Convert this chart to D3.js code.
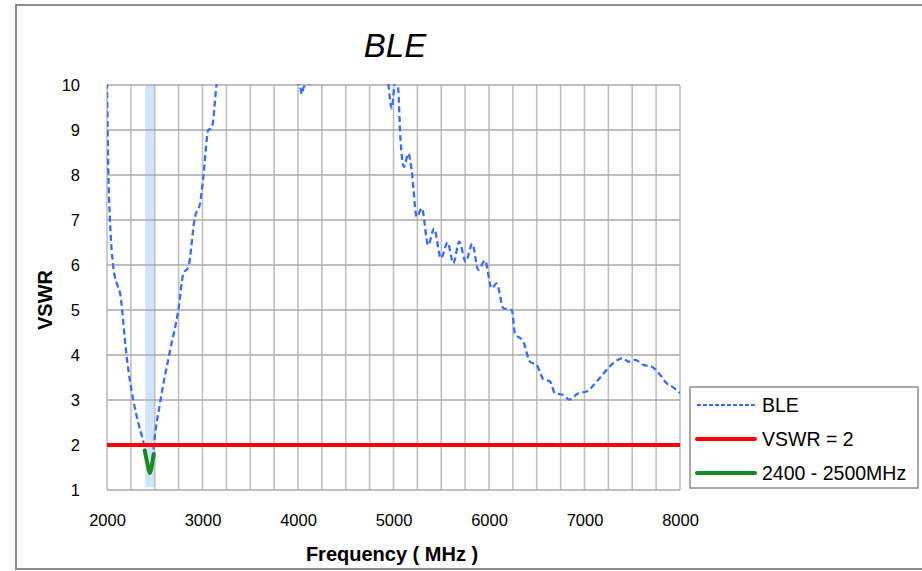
<!DOCTYPE html>
<html>
<head>
<meta charset="utf-8">
<script src="https://cdn.jsdelivr.net/npm/d3@7"></script>
<style>
  body { margin: 0; background: #fff; }
  svg text { font-family: "Liberation Sans", Arial, sans-serif; fill: #000; }
</style>
</head>
<body>
<svg id="chart" width="922" height="571"></svg>
<script>
// measured curve (MHz, VSWR)
const bleFreq = [2000, 2014, 2031, 2066, 2101, 2136, 2206, 2275, 2328, 2380, 2420, 2450, 2470, 2492,
  2555, 2660, 2747, 2799, 2852, 2921, 2974, 3009, 3061, 3096, 3148, 3200, 3500,
  3900, 3990, 4021, 4038, 4060, 4100, 4150, 4250, 4600,
  4900, 4945, 4981, 5016, 5035, 5050, 5068, 5110, 5155, 5190, 5243, 5296, 5364, 5424,
  5497, 5567, 5626, 5689, 5756, 5825, 5888, 5958, 6028, 6080, 6150, 6238, 6272, 6359,
  6429, 6499, 6569, 6639, 6691, 6778, 6841, 6935, 7023, 7128, 7232, 7319, 7400, 7459,
  7529, 7616, 7703, 7791, 7861, 7930, 8000];
const bleVswr = [10.05, 8.1, 7.0, 5.96, 5.6, 5.38, 3.96, 3.0, 2.49, 2.07, 1.62, 1.38, 1.55, 2.04,
  2.93, 4.1, 5.0, 5.8, 5.96, 7.07, 7.37, 7.96, 9.0, 9.04, 10.04, 11, 14,
  11, 10.05, 10.0, 9.8, 9.95, 10.02, 10.05, 10.5, 13,
  10.5, 10.02, 9.48, 10.04, 10.05, 9.9, 9.0, 8.18, 8.48, 8.11, 7.07, 7.26, 6.44, 6.81,
  6.15, 6.5, 6.04, 6.52, 6.07, 6.47, 5.89, 6.1, 5.48, 5.59, 5.04, 5.0, 4.48, 4.3,
  3.85, 3.78, 3.46, 3.41, 3.15, 3.11, 3.01, 3.15, 3.19, 3.41, 3.67, 3.85, 3.93, 3.85,
  3.89, 3.78, 3.74, 3.56, 3.37, 3.28, 3.15];

const bandFreq = [2395, 2420, 2450, 2470, 2490];
const bandVswr = [1.88, 1.62, 1.38, 1.55, 1.8];
const bandRange = [2400, 2500];

const limitVswr = 2;
const xTicks = [2000, 3000, 4000, 5000, 6000, 7000, 8000];
const yTicks = [1, 2, 3, 4, 5, 6, 7, 8, 9, 10];

const svg = d3.select("#chart");
const plotL = 107, plotR = 680, plotT = 85, plotB = 490;

const x = d3.scaleLinear().domain([2000, 8000]).range([plotL, plotR]);
const y = d3.scaleLinear().domain([1, 10]).range([plotB, plotT]);

// chart frame
svg.append("rect")
  .attr("x", 16).attr("y", 5).attr("width", 930).attr("height", 564)
  .attr("fill", "none").attr("stroke", "#8c8c8c").attr("stroke-width", 2);

svg.append("text")
  .attr("x", 395).attr("y", 57)
  .attr("text-anchor", "middle")
  .attr("font-size", 33).attr("font-style", "italic")
  .text("BLE");

// 2400-2500 band
svg.append("rect")
  .attr("x", x(bandRange[0])).attr("y", plotT)
  .attr("width", x(bandRange[1]) - x(bandRange[0]))
  .attr("height", plotB - plotT - 3)
  .attr("fill", "#cfe5fb");

// grid
svg.append("g")
  .selectAll("line")
  .data(d3.range(2000, 8001, 250))
  .join("line")
  .attr("x1", (d) => x(d)).attr("x2", (d) => x(d))
  .attr("y1", plotT).attr("y2", plotB)
  .attr("stroke", "#c0c0c0").attr("stroke-width", 1.6);

svg.append("g")
  .selectAll("line")
  .data(yTicks)
  .join("line")
  .attr("x1", plotL).attr("x2", plotR)
  .attr("y1", (d) => y(d)).attr("y2", (d) => y(d))
  .attr("stroke", "#aaaaaa").attr("stroke-width", 1.6);

// axes (labels only)
const xAxis = svg.append("g")
  .attr("transform", `translate(0, ${plotB})`)
  .call(d3.axisBottom(x).tickValues(xTicks).tickSize(0).tickPadding(24).tickFormat(d3.format("d")));
const yAxis = svg.append("g")
  .attr("transform", `translate(${plotL}, 0)`)
  .call(d3.axisLeft(y).tickValues(yTicks).tickSize(0).tickPadding(27));
[xAxis, yAxis].forEach((a) => {
  a.attr("font-family", null);
  a.select(".domain").remove();
  a.selectAll("text").attr("font-size", 16.5);
});

svg.append("text")
  .attr("transform", "translate(52, 300) rotate(-90)")
  .attr("text-anchor", "middle")
  .attr("font-size", 20).attr("font-weight", "bold")
  .text("VSWR");

svg.append("text")
  .attr("x", 392).attr("y", 561)
  .attr("text-anchor", "middle")
  .attr("font-size", 20).attr("font-weight", "bold")
  .text("Frequency ( MHz )");

// lines
svg.append("clipPath").attr("id", "plot")
  .append("rect").attr("x", plotL).attr("y", plotT - 1)
  .attr("width", plotR - plotL).attr("height", plotB - plotT + 1);

const line = d3.line()
  .x((d) => x(d[0]))
  .y((d) => y(d[1]))
  .curve(d3.curveMonotoneX);

svg.append("path")
  .attr("clip-path", "url(#plot)")
  .attr("d", line(d3.zip(bleFreq, bleVswr)))
  .attr("fill", "none")
  .attr("stroke", "#3b6cf2").attr("stroke-width", 2.3)
  .attr("stroke-dasharray", "6,3.5");

svg.append("line")
  .attr("x1", x(2000)).attr("x2", x(8000))
  .attr("y1", y(limitVswr)).attr("y2", y(limitVswr))
  .attr("stroke", "#ff0000").attr("stroke-width", 4);

svg.append("path")
  .attr("d", line(d3.zip(bandFreq, bandVswr)))
  .attr("fill", "none")
  .attr("stroke", "#178a24").attr("stroke-width", 4)
  .attr("stroke-linecap", "round");

// legend
const legend = svg.append("g");
legend.append("rect")
  .attr("x", 690).attr("y", 387).attr("width", 228).attr("height", 101)
  .attr("fill", "#fff").attr("stroke", "#8c8c8c").attr("stroke-width", 1.5);

const legendItems = [
  { label: "BLE", color: "#3b6cf2", width: 2, dash: "4,2" },
  { label: "VSWR = 2", color: "#ff0000", width: 4, dash: null },
  { label: "2400 - 2500MHz", color: "#178a24", width: 4, dash: null }
];
const rows = legend.selectAll("g.item")
  .data(legendItems)
  .join("g")
  .attr("class", "item")
  .attr("transform", (_, i) => `translate(0, ${405 + i * 34})`);
rows.append("line")
  .attr("x1", 697).attr("x2", 755)
  .attr("stroke", (d) => d.color).attr("stroke-width", (d) => d.width)
  .attr("stroke-dasharray", (d) => d.dash)
  .attr("stroke-linecap", (d) => d.dash ? null : "round");
rows.append("text")
  .attr("x", 762).attr("dy", "0.35em")
  .attr("font-size", 19.5)
  .text((d) => d.label);
</script>
</body>
</html>
